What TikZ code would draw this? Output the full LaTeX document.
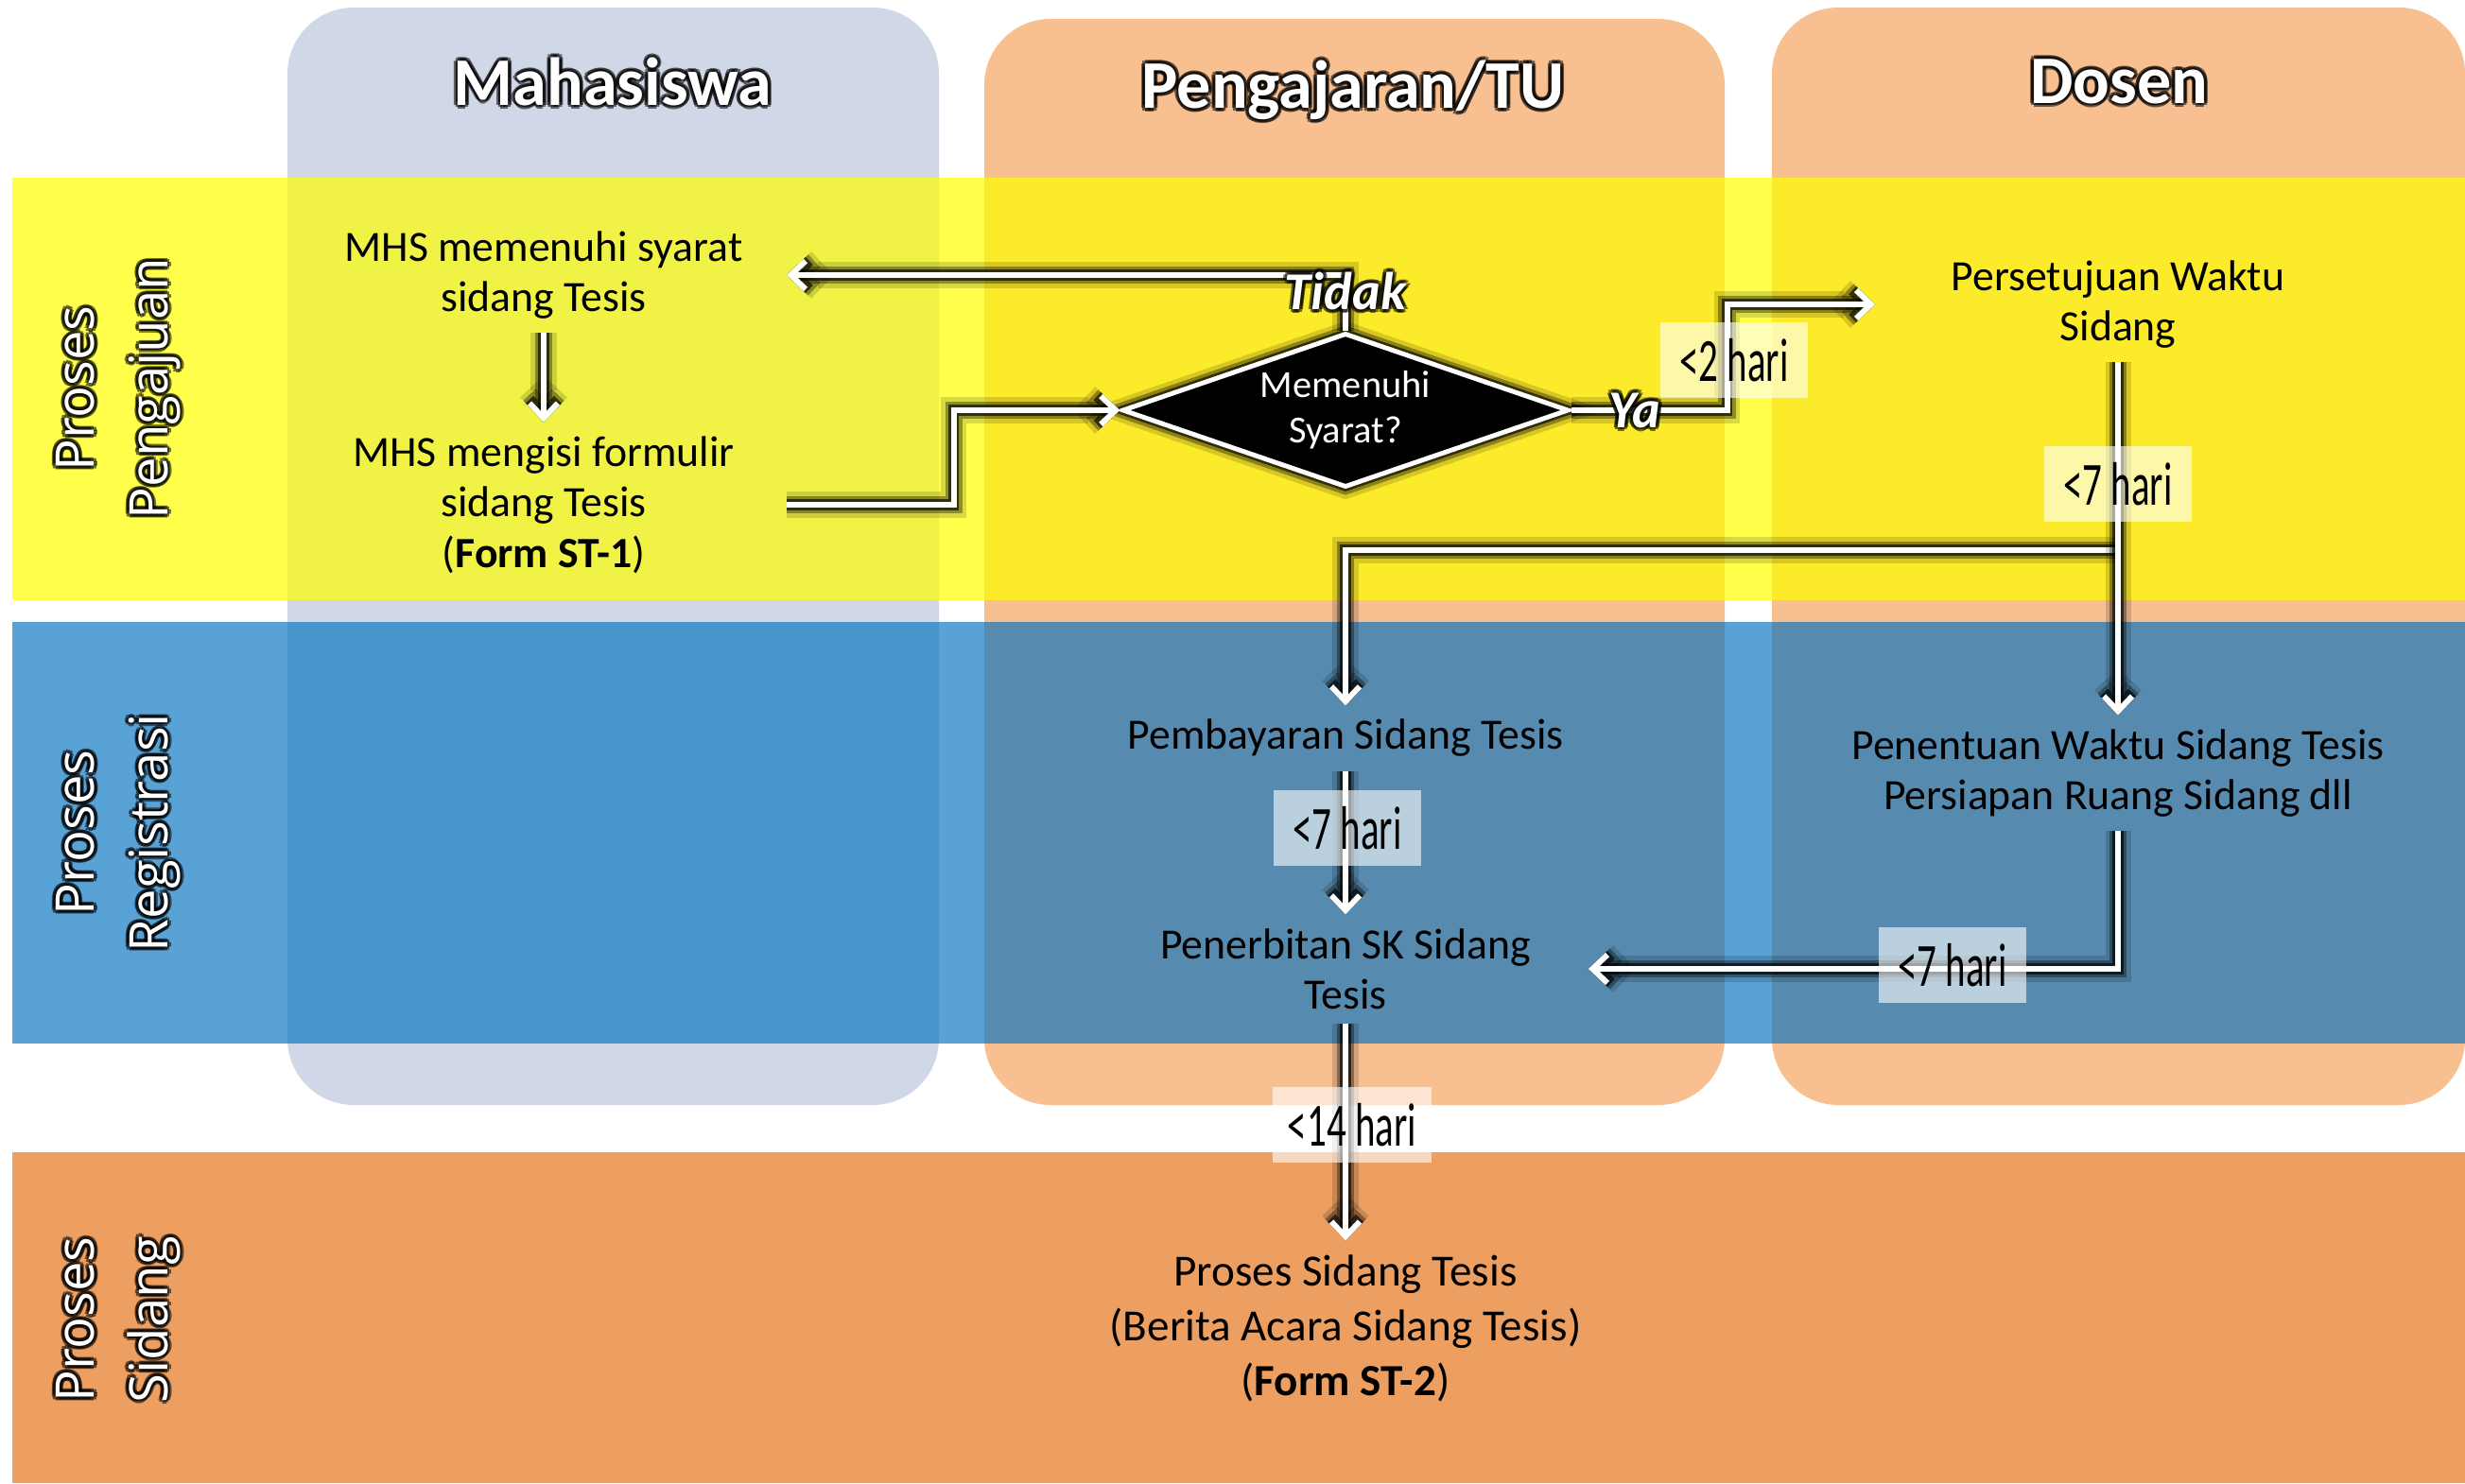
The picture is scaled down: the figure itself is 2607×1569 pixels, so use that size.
\documentclass[tikz,border=0pt]{standalone}
\usepackage{fontspec}
\setmainfont{Carlito}
\newfontfamily\rowfont{Open Sans}
\usepackage{tikz}
\usetikzlibrary{shapes.geometric, arrows.meta}
\definecolor{lanegrey}{RGB}{208,216,232}
\definecolor{lanepeach}{RGB}{248,191,144}
\definecolor{rowyellow}{RGB}{255,255,0}
\definecolor{rowblue}{RGB}{0,112,192}
\definecolor{roworange}{RGB}{236,159,96}

% white text with a dark halo: name, position, style, text
\newcommand{\glownode}[4]{%
  \foreach \ang in {0,45,...,315}
    \path (#2) ++(\ang:4) node[#3, text=black, text opacity=0.55] {#4};
  \node[#3, text=white] (#1) at (#2) {#4};
}
\newcommand{\dayslabel}[1]{\scalebox{0.63}[1]{\fontsize{18.5}{20}\selectfont #1}}

\tikzset{
  lane/.style={rounded corners=0.7cm},
  head/.style={font=\bfseries\fontsize{20.5}{24}\selectfont},
  rowlabel/.style={rotate=90, align=center, font=\rowfont\fontsize{16}{22}\selectfont},
  answer/.style={font=\bfseries\itshape\fontsize{16}{18}\selectfont},
  proc/.style={align=center, minimum width=5.12cm, inner xsep=2pt, inner ysep=4pt,
    font=\fontsize{13}{15.2}\selectfont},
  halo/.style={preaction={draw=black, draw opacity=0.15, line width=#1+6pt},
    preaction={draw=black, draw opacity=0.35, line width=#1+3.5pt},
    preaction={draw=black, draw opacity=0.65, line width=#1+1.5pt}},
  decision/.style={diamond, aspect=2.9, fill=black, draw=white, line width=1.4pt,
    minimum width=4.72cm, minimum height=1.63cm, inner sep=0pt, align=center,
    text=white, font=\fontsize{11.5}{13.6}\selectfont, halo=1.4pt},
  flow/.style={draw=white, line width=1.7pt, -{Straight Barb[length=4.5pt,width=8.5pt]},
    halo=1.7pt},
  days/.style={fill=white, fill opacity=0.6, text opacity=1, inner sep=0pt,
    minimum width=1.56cm, minimum height=0.8cm},
}

\begin{document}
\begin{tikzpicture}[x=0.01cm, y=-0.01cm]
\useasboundingbox (0,0) rectangle (2607,1569);

% Lanes
\fill[lanegrey, lane] (304,8) rectangle (993,1169);
\fill[lanepeach, lane] (1041,20) rectangle (1824,1169);
\fill[lanepeach, lane] (1874,8) rectangle (2607,1169);

% Process rows
\fill[rowyellow, opacity=0.7] (13,188) rectangle (2607,635);
\fill[rowblue, opacity=0.65] (13,658) rectangle (2607,1104);
\fill[roworange] (13,1219) rectangle (2607,1569);

% Lane and row titles
\glownode{hmhs}{648,86}{head}{Mahasiswa}
\glownode{htu}{1431,95}{head}{Pengajaran/TU}
\glownode{hdosen}{2241,86}{head}{Dosen}
\glownode{rpengajuan}{125,411}{rowlabel}{Proses\\Pengajuan}
\glownode{rregistrasi}{125,881}{rowlabel}{Proses\\Registrasi}
\glownode{rsidang}{125,1396}{rowlabel}{Proses\\Sidang}

% Steps
\node[proc] (mhs1) at (575,291) {MHS memenuhi syarat\\sidang Tesis};
\node[proc] (mhs2) at (575,534) {MHS mengisi formulir\\sidang Tesis\\(\textbf{Form ST-1})};
\node[decision] (dia) at (1423,434) {Memenuhi\\Syarat?};
\node[proc] (pst) at (2240,322) {Persetujuan Waktu\\Sidang};
\node[proc] (pby) at (1423,781) {Pembayaran Sidang Tesis};
\node[proc] (pnt) at (2240,818) {Penentuan Waktu Sidang Tesis\\Persiapan Ruang Sidang dll};
\node[proc] (pnr) at (1423,1025) {Penerbitan SK Sidang\\Tesis};
\node[proc, font=\fontsize{13.4}{16.5}\selectfont] (sdg) at (1423,1405)
  {Proses Sidang Tesis\\(Berita Acara Sidang Tesis)\\(\textbf{Form ST-2})};

% Connectors
\draw[flow] (mhs1.south) -- (mhs2.north);
\draw[flow] (mhs2.east) -- ++(177,0) |- (dia.west);
\draw[flow] (dia.north) |- (mhs1.east);
\draw[flow] (dia.east) -- ++(165,0) |- (pst.west);
\coordinate (split) at (2240,582);
\draw[flow] (split) -| (pby.north);
\draw[flow] (pst.south) -- (pnt.north);
\draw[flow] (pby.south) -- (pnr.north);
\draw[flow] (pnt.south) |- (pnr.east);
\draw[flow] (pnr.south) -- (sdg.north);

% Answers and durations
\glownode{tidak}{1423,308}{answer}{Tidak}
\glownode{ya}{1729,434}{answer}{Ya}
\node[days] (d1) at (1834,381) {\dayslabel{<2 hari}};
\node[days] (d2) at (2240,512) {\dayslabel{<7 hari}};
\node[days] (d3) at (1425,876) {\dayslabel{<7 hari}};
\node[days] (d4) at (2065,1021) {\dayslabel{<7 hari}};
\node[days, minimum width=1.68cm] (d5) at (1430,1190) {\dayslabel{<14 hari}};
\end{tikzpicture}
\end{document}
